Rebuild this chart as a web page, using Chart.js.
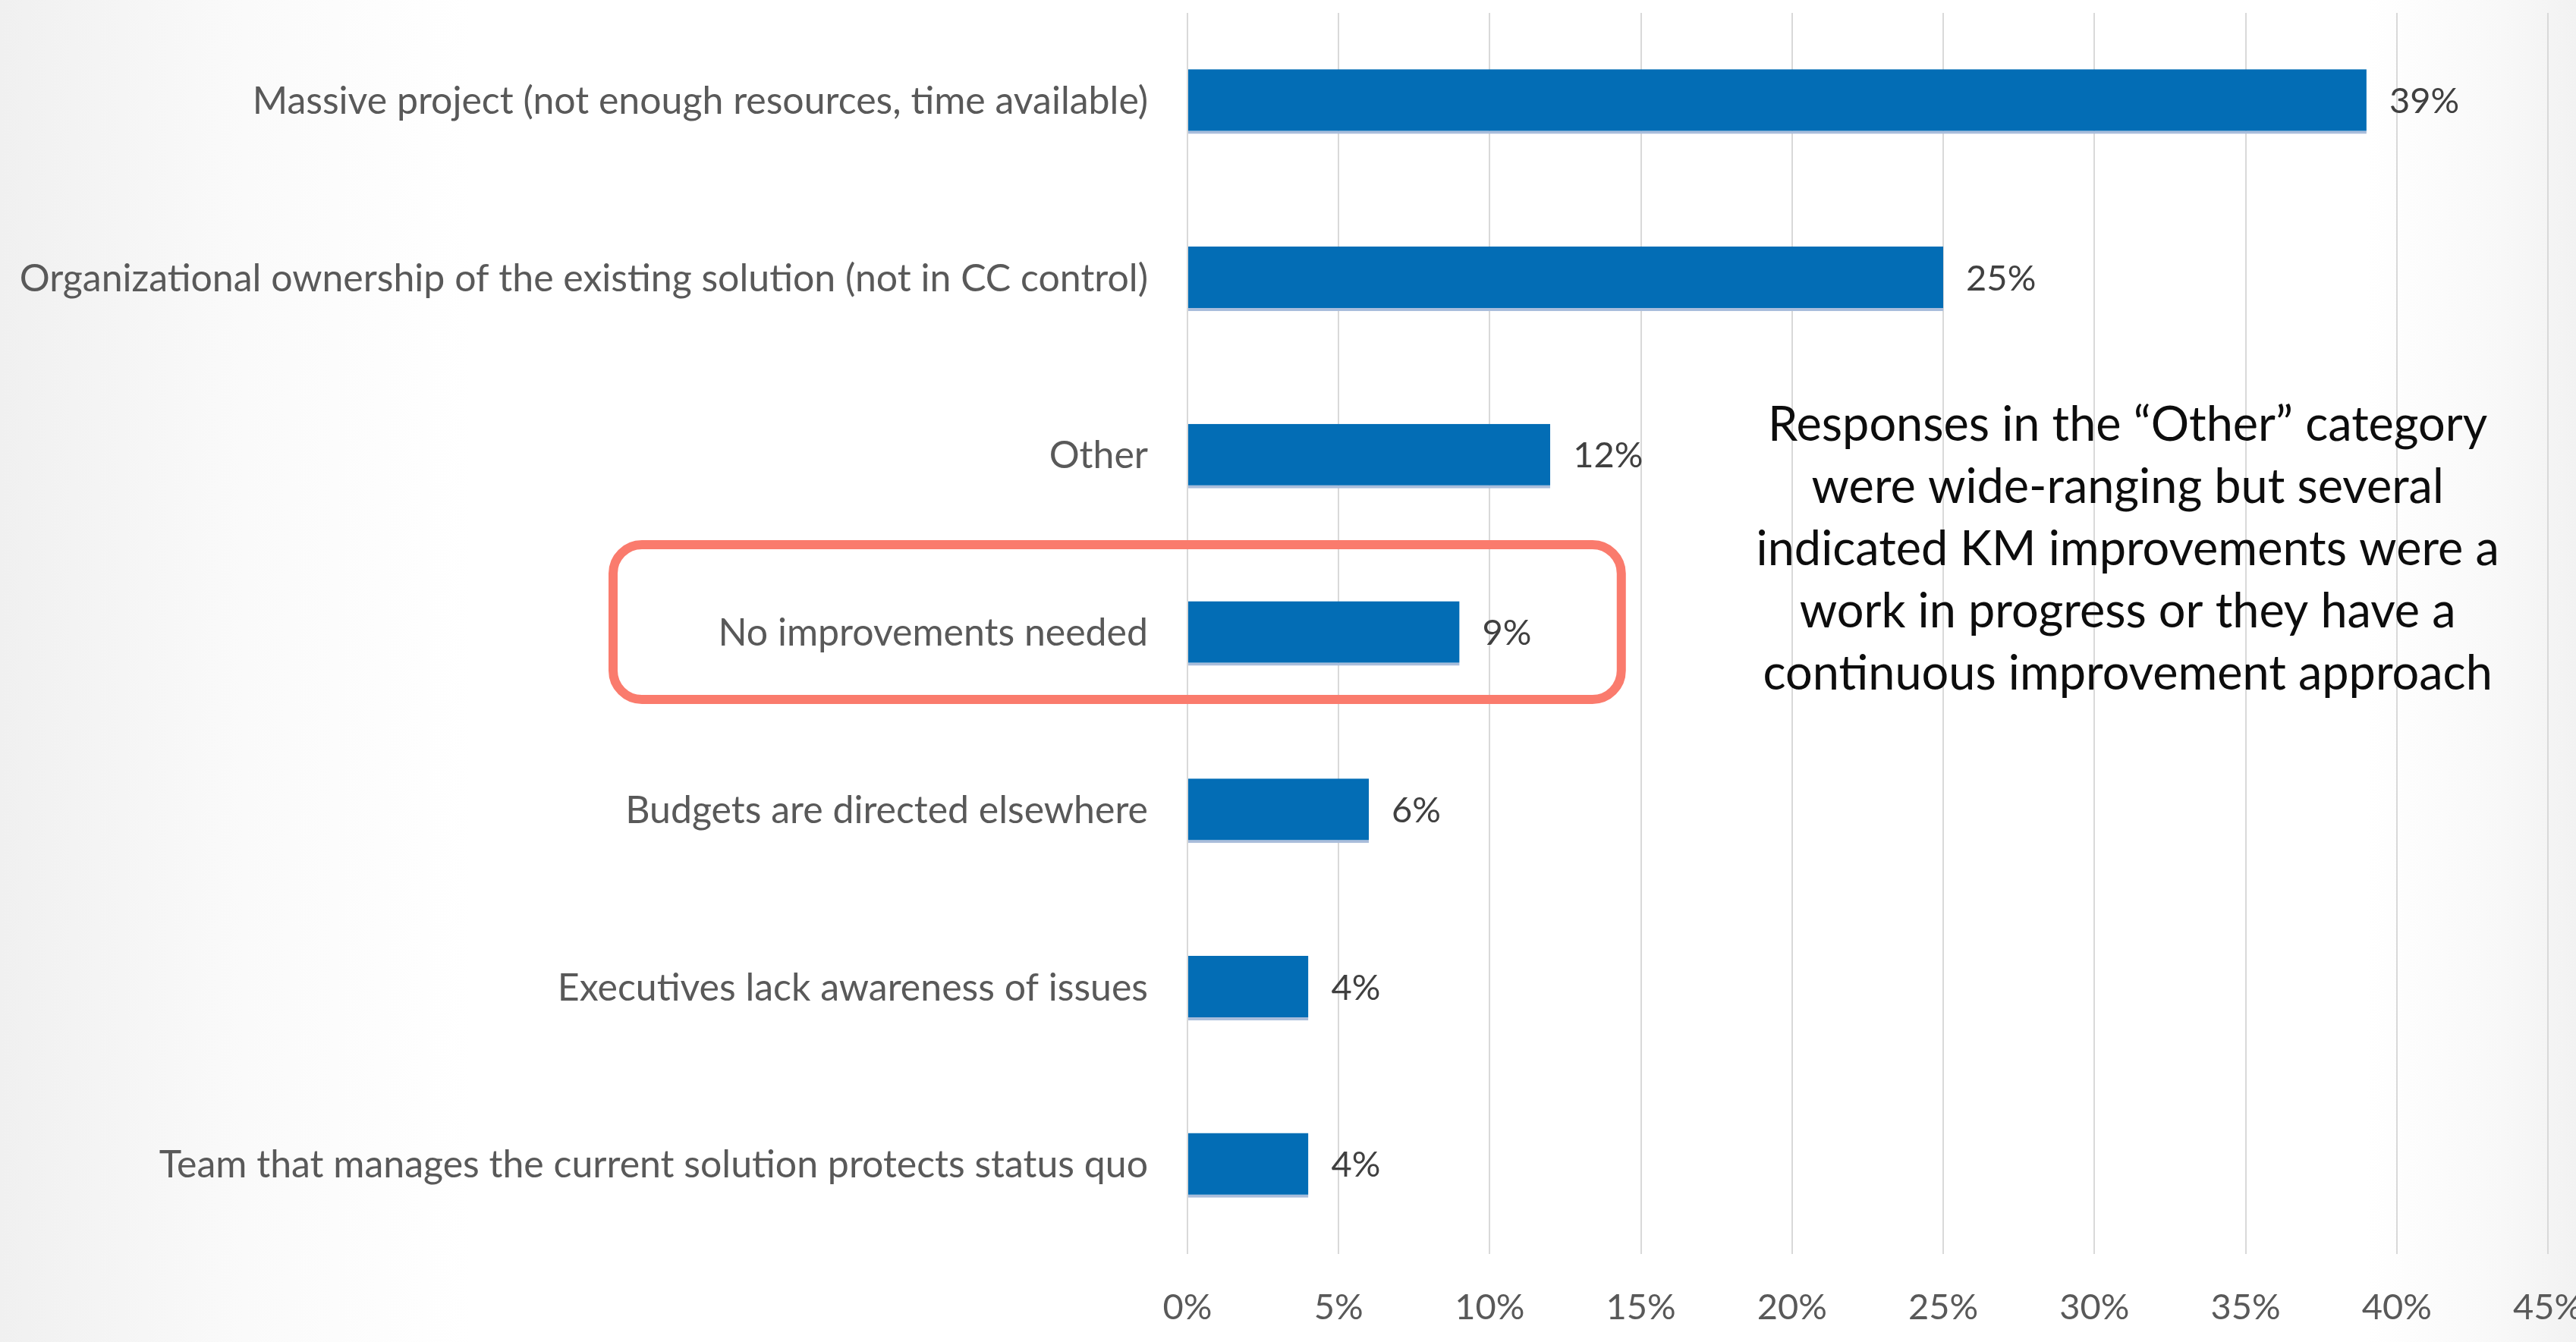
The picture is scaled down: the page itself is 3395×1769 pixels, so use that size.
<!DOCTYPE html>
<html>
<head>
<meta charset="utf-8">
<script src="https://cdn.jsdelivr.net/npm/chart.js@4.4.0/dist/chart.umd.min.js"></script>
<style>
    html, body {
        margin: 0;
        padding: 0;
        width: 3395px;
        height: 1769px;
        overflow: hidden;
        background: linear-gradient(to right, #f0f0f0 0px, #fafafa 320px, #ffffff 620px, #ffffff 3120px, #f8f8f8 3300px, #f2f2f2 3395px);
    }
    #contenedor {
        position: absolute;
        left: 0;
        top: 0;
        width: 3395px;
        height: 1769px;
    }
</style>
</head>
<body>
<div id="contenedor">
    <canvas id="barChart"></canvas>
</div>
<script>
// datos del grafico
const categorias = [
    'Massive project (not enough resources, time available)',
    'Organizational ownership of the existing solution (not in CC control)',
    'Other',
    'No improvements needed',
    'Budgets are directed elsewhere',
    'Executives lack awareness of issues',
    'Team that manages the current solution protects status quo'
];
const porcentajes = [39, 25, 12, 9, 6, 4, 4];
const ejeMin = 0;
const ejeMax = 45;
const pasoEje = 5;

// texto de la nota sobre "Other"
const notaOtros = [
    'Responses in the \u201cOther\u201d category',
    'were wide-ranging but several',
    'indicated KM improvements were a',
    'work in progress or they have a',
    'continuous improvement approach'
];
const filaResaltada = 'No improvements needed';

const fuente = 'Lato, "Open Sans", sans-serif';

// etiquetas de porcentaje al final de cada barra
const etiquetasValor = {
    id: 'etiquetasValor',
    afterDatasetsDraw(chart) {
        const ctx = chart.ctx;
        const meta = chart.getDatasetMeta(0);
        ctx.save();
        ctx.font = '47px ' + fuente;
        ctx.fillStyle = '#404040';
        ctx.textAlign = 'left';
        ctx.textBaseline = 'middle';
        meta.data.forEach((barra, i) => {
            ctx.fillText(porcentajes[i] + '%', barra.x + 30, barra.y);
        });
        ctx.restore();
    }
};

// nota de texto y recuadro alrededor de la fila resaltada
const notaYRecuadro = {
    id: 'notaYRecuadro',
    afterDraw(chart) {
        const ctx = chart.ctx;
        const x = chart.scales.x;
        const y = chart.scales.y;
        ctx.save();

        // recuadro redondeado
        const fila = categorias.indexOf(filaResaltada);
        const yc = y.getPixelForValue(fila) - 15;
        const izq = chart.chartArea.left - 757;
        const der = x.getPixelForValue(14.35);
        ctx.strokeStyle = '#fa7b6d';
        ctx.lineWidth = 12;
        ctx.beginPath();
        ctx.roundRect(izq, yc - 102, der - izq, 204, 38);
        ctx.stroke();

        // nota
        ctx.font = '63px ' + fuente;
        ctx.fillStyle = '#0d0d0d';
        ctx.textAlign = 'center';
        ctx.textBaseline = 'middle';
        const cx = x.getPixelForValue(31.1);
        const centro = y.getPixelForValue(2.53);
        const salto = 82;
        notaOtros.forEach((linea, i) => {
            ctx.fillText(linea, cx, centro + (i - 2) * salto);
        });
        ctx.restore();
    }
};

// quitar el relleno que Chart.js reserva para las etiquetas de los ejes
function sinRelleno(s) {
    s.paddingTop = 0;
    s.paddingBottom = 0;
    s.paddingLeft = 0;
    s.paddingRight = 0;
}

const ctx = document.getElementById('barChart').getContext('2d');

window.barChartInstance = new Chart(ctx, {
    type: 'bar',
    data: {
        labels: categorias,
        datasets: [{
            data: porcentajes,
            backgroundColor: '#036db5',
            borderColor: '#a9bddb',
            borderWidth: { bottom: 4 },
            borderSkipped: false,
            barPercentage: 0.7,
            categoryPercentage: 0.52
        }]
    },
    options: {
        indexAxis: 'y',
        responsive: true,
        maintainAspectRatio: false,
        animation: false,
        layout: { padding: { top: 17, left: 0, right: 37, bottom: 0 } },
        scales: {
            x: {
                min: ejeMin,
                max: ejeMax,
                ticks: {
                    stepSize: pasoEje,
                    callback: (v) => v + '%',
                    color: '#595959',
                    font: { family: fuente, size: 47 },
                    padding: 43,
                    maxRotation: 0
                },
                grid: { color: '#d9d9d9', lineWidth: 2, drawTicks: false },
                border: { display: false },
                afterFit: (s) => { s.height = 116; sinRelleno(s); }
            },
            y: {
                ticks: {
                    color: '#595959',
                    font: { family: fuente, size: 50 },
                    padding: 44
                },
                grid: { display: false },
                border: { display: false },
                afterFit: (s) => { s.width = 1565; sinRelleno(s); }
            }
        },
        plugins: {
            legend: { display: false },
            tooltip: { enabled: false }
        }
    },
    plugins: [etiquetasValor, notaYRecuadro]
});
</script>
</body>
</html>
